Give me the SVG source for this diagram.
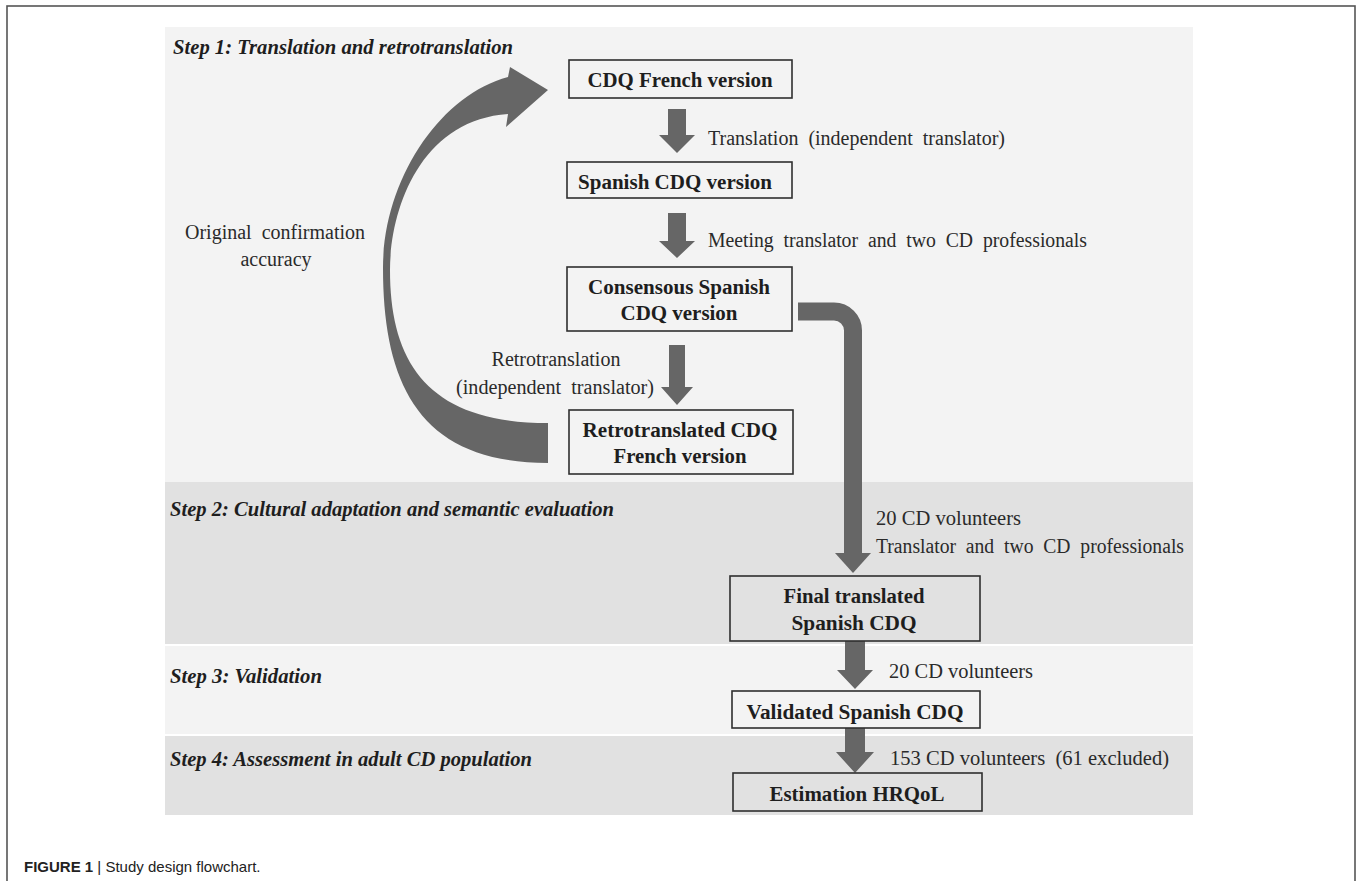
<svg xmlns="http://www.w3.org/2000/svg" width="1360" height="881" viewBox="0 0 1360 881">
  <style>
    .band-light { fill: #f3f3f3; }
    .band-dark { fill: #e1e1e1; }
    .step { font-family: "Liberation Serif", "Times New Roman", serif; font-weight: bold; font-style: italic; font-size: 21px; fill: #1e1e1e; }
    .box { fill: none; stroke: #2f2f2f; stroke-width: 1.6; }
    .boxtxt { font-family: "Liberation Serif", "Times New Roman", serif; font-weight: bold; font-size: 20px; fill: #1e1e1e; text-anchor: middle; }
    .lbl { font-family: "Liberation Serif", "Times New Roman", serif; font-size: 20px; fill: #2a2a2a; white-space: pre; }
    .lblc { font-family: "Liberation Serif", "Times New Roman", serif; font-size: 20px; fill: #2a2a2a; text-anchor: middle; white-space: pre; }
    .arrow { fill: #666666; }
    .pipe { fill: none; stroke: #666666; stroke-width: 18; }
    .cap { font-family: "Liberation Sans", Arial, sans-serif; font-size: 15px; fill: #222222; }
  </style>

  <rect x="0" y="0" width="1360" height="881" fill="#ffffff"/>
  <!-- outer figure frame -->
  <rect x="7" y="6" width="1348" height="890" fill="none" stroke="#555555" stroke-width="1.6"/>

  <!-- step bands -->
  <g id="bands">
    <rect class="band-light" x="165" y="27" width="1028" height="455"/>
    <rect class="band-dark" x="165" y="482" width="1028" height="162"/>
    <rect class="band-light" x="165" y="646" width="1028" height="88"/>
    <rect class="band-dark" x="165" y="736" width="1028" height="79"/>
  </g>

  <g id="step-titles">
    <text class="step" x="173" y="54" textLength="340" lengthAdjust="spacingAndGlyphs">Step 1: Translation and retrotranslation</text>
    <text class="step" x="170" y="516" textLength="444" lengthAdjust="spacingAndGlyphs">Step 2: Cultural adaptation and semantic evaluation</text>
    <text class="step" x="170" y="683" textLength="152" lengthAdjust="spacingAndGlyphs">Step 3: Validation</text>
    <text class="step" x="170" y="766" textLength="362" lengthAdjust="spacingAndGlyphs">Step 4: Assessment in adult CD population</text>
  </g>

  <!-- connectors -->
  <g id="connectors">
    <!-- curved return arrow: retrotranslated version back to the French original -->
    <path class="arrow" d="M 548,463 C 420,463 383,385 383,268 C 383,180 440,95 508,77 L 510,67 L 548,90 L 506,127 L 508,114 C 420,120 390,210 390,270 C 390,365 430,423 548,423 Z"/>
    <!-- French -> Spanish -->
    <polygon class="arrow" points="668,109 686,109 686,135 695,135 677,153 659,135 668,135"/>
    <!-- Spanish -> Consensous -->
    <polygon class="arrow" points="668,213 686,213 686,241 695,241 677,258 659,241 668,241"/>
    <!-- Consensous -> Retrotranslated -->
    <polygon class="arrow" points="669,345 685,345 685,387 693,387 677,405 661,387 669,387"/>
    <!-- Consensous -> Final translated (elbow pipe) -->
    <path class="pipe" d="M 798,311.5 H 834 A 19 19 0 0 1 853,330.5 V 555"/>
    <polygon class="arrow" points="835,553 871,553 853,573"/>
    <!-- Final -> Validated -->
    <polygon class="arrow" points="845,641 865,641 865,670 873,670 855,689 837,670 845,670"/>
    <!-- Validated -> Estimation -->
    <polygon class="arrow" points="845,728 865,728 865,752 874,752 855,773 836,752 845,752"/>
  </g>

  <g id="connector-labels">
    <text class="lblc" x="275" y="239" textLength="180" lengthAdjust="spacingAndGlyphs">Original  confirmation</text>
    <text class="lblc" x="276" y="266">accuracy</text>
    <text class="lbl" x="708" y="145" textLength="297" lengthAdjust="spacingAndGlyphs">Translation  (independent  translator)</text>
    <text class="lbl" x="708" y="247" textLength="379" lengthAdjust="spacingAndGlyphs">Meeting  translator  and  two  CD  professionals</text>
    <text class="lblc" x="556" y="366">Retrotranslation</text>
    <text class="lblc" x="555" y="394" textLength="198" lengthAdjust="spacingAndGlyphs">(independent  translator)</text>
    <text class="lbl" x="876" y="525" textLength="145" lengthAdjust="spacingAndGlyphs">20 CD volunteers</text>
    <text class="lbl" x="876" y="553" textLength="308" lengthAdjust="spacingAndGlyphs">Translator  and  two  CD  professionals</text>
    <text class="lbl" x="889" y="678" textLength="144" lengthAdjust="spacingAndGlyphs">20 CD volunteers</text>
    <text class="lbl" x="890" y="765" textLength="279" lengthAdjust="spacingAndGlyphs">153 CD volunteers  (61 excluded)</text>
  </g>

  <g id="node-cdq-french">
    <rect class="box" x="569" y="60" width="223" height="38"/>
    <text class="boxtxt" x="680" y="87" textLength="185" lengthAdjust="spacingAndGlyphs">CDQ French version</text>
  </g>
  <g id="node-spanish-cdq">
    <rect class="box" x="567" y="162" width="225" height="36"/>
    <text class="boxtxt" x="675" y="189" textLength="194" lengthAdjust="spacingAndGlyphs">Spanish  CDQ version</text>
  </g>
  <g id="node-consensous">
    <rect class="box" x="567" y="267" width="225" height="64"/>
    <text class="boxtxt" x="679" y="294" textLength="182" lengthAdjust="spacingAndGlyphs">Consensous Spanish</text>
    <text class="boxtxt" x="679" y="320" textLength="117" lengthAdjust="spacingAndGlyphs">CDQ version</text>
  </g>
  <g id="node-retrotranslated">
    <rect class="box" x="569" y="410" width="224" height="64"/>
    <text class="boxtxt" x="680" y="437" textLength="195" lengthAdjust="spacingAndGlyphs">Retrotranslated CDQ</text>
    <text class="boxtxt" x="680" y="463" textLength="133" lengthAdjust="spacingAndGlyphs">French version</text>
  </g>
  <g id="node-final">
    <rect class="box" x="730" y="576" width="250" height="65"/>
    <text class="boxtxt" x="854" y="603" textLength="141" lengthAdjust="spacingAndGlyphs">Final translated</text>
    <text class="boxtxt" x="854" y="630" textLength="125" lengthAdjust="spacingAndGlyphs">Spanish CDQ</text>
  </g>
  <g id="node-validated">
    <rect class="box" x="732" y="691" width="248" height="37"/>
    <text class="boxtxt" x="855" y="719" textLength="217" lengthAdjust="spacingAndGlyphs">Validated  Spanish  CDQ</text>
  </g>
  <g id="node-estimation">
    <rect class="box" x="733" y="773" width="249" height="38"/>
    <text class="boxtxt" x="857" y="801" textLength="175" lengthAdjust="spacingAndGlyphs">Estimation  HRQoL</text>
  </g>

  <text class="cap" x="24" y="872"><tspan font-weight="bold">FIGURE 1</tspan> | Study design flowchart.</text>
</svg>
